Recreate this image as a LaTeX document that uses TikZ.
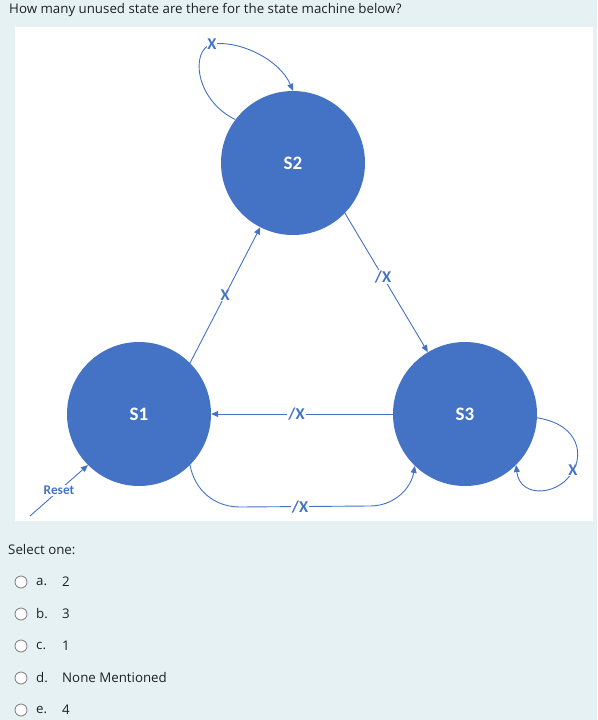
\documentclass[tikz,border=0pt]{standalone}
\usepackage{fontspec}
\setmainfont{Open Sans}
\newfontfamily\calfont{Carlito}
\usetikzlibrary{arrows.meta}
\definecolor{bgc}{HTML}{E6F1F4}
\definecolor{stc}{HTML}{4472C4}
\definecolor{txc}{HTML}{1D2125}
\definecolor{radc}{HTML}{8A8A8A}
\tikzset{
  state/.style={circle,fill=stc,minimum size=144pt,inner sep=0pt,text=white,font=\calfont\bfseries\fontsize{19}{19}\selectfont},
  tr/.style={draw=stc,line width=0.9pt,-{Triangle[length=7pt,width=6pt]}},
  lbl/.style={fill=white,inner sep=1pt,text=stc,font=\calfont\bfseries\fontsize{16.5}{16.5}\selectfont},
  qtext/.style={anchor=west,text=txc,inner sep=0pt,font=\fontsize{13.3}{16}\selectfont},
  radio/.style={circle,draw=radc,line width=0.9pt,fill=white,minimum size=12pt,inner sep=0pt}
}
\begin{document}
\begin{tikzpicture}[x=1pt,y=-1pt]
\fill[bgc] (0,0) rectangle (597,720);
\useasboundingbox (0,0) rectangle (597,720);
\fill[white] (15,27) rectangle (593,521);
\node[qtext] (q) at (9,10) {How many unused state are there for the state machine below?};
\node[state] (s2) at (293,163) {S2};
\node[state] (s1) at (139,414) {S1};
\node[state] (s3) at (465,414) {S3};
% S1 -> S2
\draw[tr] (s1.45) -- node[lbl,pos=0.5] (l12) {X} (s2.-117);
% S2 -> S3
\draw[tr] (s2.-44) -- node[lbl,pos=0.46] (l23) {/X} (s3.121);
% S3 -> S1
\draw[tr] (s3.180) -- node[lbl,pos=0.53] (l31) {/X} (s1.0);
% S1 -> S3 bottom
\coordinate (b1) at (240,507);
\coordinate (b2) at (370,506);
\draw[tr] (s1.-45) to[out=-80,in=180] (b1) -- (b2) to[out=0,in=-100] (s3.-134);
\node[lbl] (l13) at (300,507) {/X};
% S2 self loop
\coordinate (x2) at (212,44);
\draw[tr] (s2.143) .. controls (195,100) and (190,50) .. (x2) .. controls (240,40) and (280,60) .. (s2.90);
\node[lbl,inner sep=0.5pt] (lx2) at (x2) {X};
% S3 self loop
\coordinate (x3) at (573,470);
\draw[tr] (s3.-3) .. controls (582,425) and (582,458) .. (x3) .. controls (562,495) and (520,500) .. (s3.-45);
\node[lbl,inner sep=0.5pt] (lx3) at (x3) {X};
% Reset
\coordinate (r0) at (30,516);
\draw[tr] (r0) -- node[lbl,pos=0.5,font=\calfont\bfseries\fontsize{13.3}{13.3}\selectfont] (lr) {Reset} (s1.-135);
% question part
\node[qtext] (sel) at (8,550) {Select one:};
\foreach \y/\l/\a [count=\i] in {582/a./2,614/b./3,646/c./1,678/d./None Mentioned,710/e./4}{
  \node[radio] (rb\i) at (21,\y) {};
  \node[qtext] (ll\i) at (36,\y) {\l};
  \node[qtext] (la\i) at (62,\y) {\a};
}
\end{tikzpicture}
\end{document}
